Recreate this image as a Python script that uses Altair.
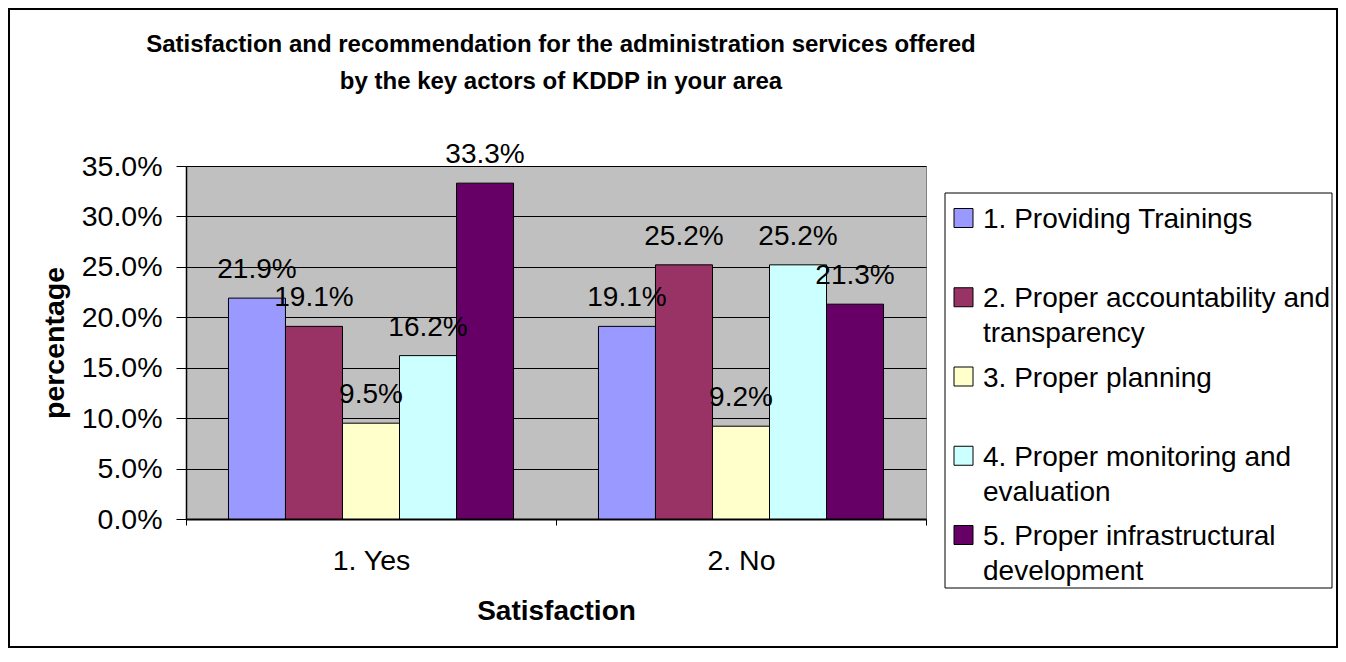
import altair as alt
import pandas as pd

# ---- data ----
categories = ["1. Yes", "2. No"]
series = [
    "1. Providing Trainings",
    "2. Proper accountability and transparency",
    "3. Proper planning",
    "4. Proper monitoring and evaluation",
    "5. Proper infrastructural development",
]
yes_values = [0.219, 0.191, 0.095, 0.162, 0.333]
no_values = [0.191, 0.252, 0.092, 0.252, 0.213]
colors = ["#9999FF", "#993366", "#FFFFCC", "#CCFFFF", "#660066"]
y_ticks = [0.0, 0.05, 0.10, 0.15, 0.20, 0.25, 0.30, 0.35]
legend_lines = [
    ["1. Providing Trainings"],
    ["2. Proper accountability and", "transparency"],
    ["3. Proper planning"],
    ["4. Proper monitoring and", "evaluation"],
    ["5. Proper infrastructural", "development"],
]
title_lines = [
    "Satisfaction and recommendation for the administration services offered",
    "by the key actors of KDDP in your area",
]

rows = []
for cat, vals in zip(categories, [yes_values, no_values]):
    for s, v in zip(series, vals):
        rows.append({"cat": cat, "series": s, "value": v})
df = pd.DataFrame(rows)
leg = pd.DataFrame({"series": series, "lines": legend_lines})

FONT = "Liberation Sans"
AXFS = 28.5

color = alt.Color("series:N", scale=alt.Scale(domain=series, range=colors), legend=None)
x_enc = alt.X(
    "cat:N",
    scale=alt.Scale(domain=categories, paddingInner=0, paddingOuter=0),
    axis=alt.Axis(
        title="Satisfaction", labelAngle=0, labelFontSize=AXFS, labelPadding=21,
        tickSize=6, tickColor="black", tickOpacity=1, domainColor="black", domainWidth=2,
        domainOpacity=1, titleFontSize=28, titleFontWeight="bold", titlePadding=23,
        grid=False, tickBand="extent", labelColor="black", titleColor="black",
    ),
)
xo = alt.XOffset("series:N", scale=alt.Scale(domain=series, paddingInner=0, paddingOuter=0.745))
yscale = alt.Scale(domain=[0, 0.35], nice=False, zero=True)

bars = alt.Chart(df).mark_bar(stroke="black", strokeWidth=1).encode(
    x=x_enc,
    xOffset=xo,
    y=alt.Y(
        "value:Q", scale=yscale,
        axis=alt.Axis(
            values=y_ticks, format=".1%", title="percentage", titleFontSize=AXFS,
            titleFontWeight="bold", titlePadding=12, labelFontSize=AXFS, labelPadding=14,
            tickSize=10, tickColor="black", tickOpacity=1, domainColor="black", domainWidth=1.5,
            domainOpacity=1, grid=True, gridColor="black", gridWidth=1, gridOpacity=1,
            labelColor="black", titleColor="black",
        ),
    ),
    color=color,
)

labels = alt.Chart(df).mark_text(baseline="middle", dy=-28, fontSize=28, color="black").encode(
    x=x_enc,
    xOffset=xo,
    y=alt.Y("value:Q", scale=yscale, axis=None),
    text=alt.Text("value:Q", format=".1%"),
)

one = alt.Data(values=[{"k": 0}])
frame = alt.Chart(one).mark_rect(fillOpacity=0, stroke="black", strokeWidth=2).encode(
    x=alt.value(-177), x2=alt.value(1151), y=alt.value(-157), y2=alt.value(481)
)
legend_box = alt.Chart(one).mark_rect(fill="white", stroke="black", strokeWidth=1).encode(
    x=alt.value(759), x2=alt.value(1146), y=alt.value(27), y2=alt.value(422)
)
leg_y = alt.Y(
    "series:N",
    scale=alt.Scale(type="point", domain=series, range=[52, 369], padding=0),
    axis=None,
)
squares = alt.Chart(leg).mark_square(size=361, stroke="black", strokeWidth=1, opacity=1).encode(
    x=alt.value(777.5), y=leg_y, color=color
)
leg_text = alt.Chart(leg).mark_text(
    align="left", baseline="alphabetic", dy=10, fontSize=28, lineHeight=35, color="black"
).encode(x=alt.value(797), y=leg_y, text="lines:N")

chart = (
    alt.layer(frame, bars, labels, legend_box, squares, leg_text)
    .resolve_scale(y="independent")
    .properties(
        width=740,
        height=353,
        padding=0,
        title=alt.TitleParams(
            text=title_lines, fontSize=24, fontWeight="bold", anchor="middle",
            frame="group", offset=-86, lineHeight=37, dx=5, color="black",
        ),
    )
    .configure(font=FONT)
    .configure_view(fill="#C0C0C0", stroke="#808080", strokeWidth=1)
)

chart.save("out.html", embed_options={"renderer": "svg", "actions": False})
